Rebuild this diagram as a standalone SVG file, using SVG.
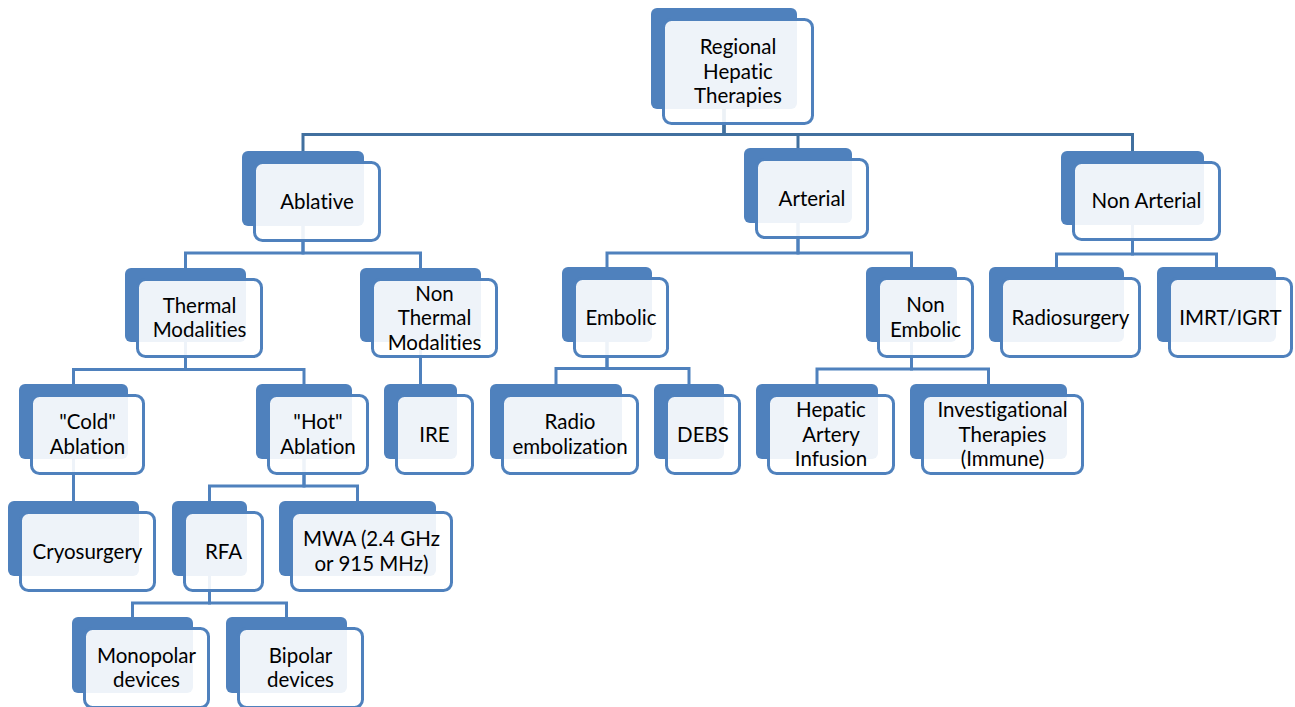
<svg xmlns="http://www.w3.org/2000/svg" width="1295" height="707" viewBox="0 0 1295 707">
<style>
.back{fill:#4F81BD;}
.front{fill:#FFFFFF;fill-opacity:0.9;stroke:#4F81BD;stroke-width:3;}
.txt{font-family:Lato,"Liberation Sans",sans-serif;font-size:20.5px;fill:#000000;text-anchor:middle;font-variant-ligatures:none;}
.conn{fill:none;stroke:#4F81BD;stroke-width:3;}
.conn-top{fill:none;stroke:#41709F;stroke-width:3;}
</style>
<rect x="0" y="0" width="1295" height="707" fill="#FFFFFF"/>
<g id="connectors">
<path class="conn-top" d="M724,109 V134.5 H303 V151"/>
<path class="conn-top" d="M724,109 V134.5 H798 V148"/>
<path class="conn-top" d="M724,109 V134.5 H1132.5 V151"/>
<path class="conn" d="M303,226 V253 H185.5 V268"/>
<path class="conn" d="M303,226 V253 H420.5 V268"/>
<path class="conn" d="M185.5,342 V369.5 H73.5 V384"/>
<path class="conn" d="M185.5,342 V369.5 H304 V384"/>
<path class="conn" d="M420.5,342 V384"/>
<path class="conn" d="M73.5,459 V501"/>
<path class="conn" d="M304,459 V486 H209.5 V501"/>
<path class="conn" d="M304,459 V486 H357.5 V501"/>
<path class="conn" d="M209.5,576 V603 H132.5 V617"/>
<path class="conn" d="M209.5,576 V603 H286.5 V617"/>
<path class="conn" d="M798,223 V253 H607 V267"/>
<path class="conn" d="M798,223 V253 H911.5 V267"/>
<path class="conn" d="M607,342 V368.5 H556 V384"/>
<path class="conn" d="M607,342 V368.5 H689 V384"/>
<path class="conn" d="M911.5,342 V369 H817 V384"/>
<path class="conn" d="M911.5,342 V369 H988.5 V384"/>
<path class="conn" d="M1132.5,225 V254 H1056.5 V267"/>
<path class="conn" d="M1132.5,225 V254 H1216.5 V267"/>
</g>
<g id="n-regional">
<rect class="back" x="651" y="8" width="146" height="101" rx="6"/>
<rect class="front" x="663.5" y="19.5" width="149" height="104" rx="8"/>
<text class="txt" x="738"><tspan x="738" y="54">Regional</tspan><tspan x="738" y="78.5">Hepatic</tspan><tspan x="738" y="103">Therapies</tspan></text>
</g>
<g id="n-ablative">
<rect class="back" x="242" y="151" width="122" height="75" rx="6"/>
<rect class="front" x="254.5" y="162.5" width="125" height="78" rx="8"/>
<text class="txt" x="317" y="208.5">Ablative</text>
</g>
<g id="n-arterial">
<rect class="back" x="744" y="148" width="108" height="75" rx="6"/>
<rect class="front" x="756.5" y="159.5" width="111" height="78" rx="8"/>
<text class="txt" x="812" y="205.5">Arterial</text>
</g>
<g id="n-nonarterial">
<rect class="back" x="1061" y="151" width="143" height="74" rx="6"/>
<rect class="front" x="1073.5" y="162.5" width="146" height="77" rx="8"/>
<text class="txt" x="1146.5" y="208">Non Arterial</text>
</g>
<g id="n-thermal">
<rect class="back" x="125" y="268" width="121" height="74" rx="6"/>
<rect class="front" x="137.5" y="279.5" width="124" height="77" rx="8"/>
<text class="txt"><tspan x="199.5" y="312.75">Thermal</tspan><tspan x="199.5" y="337.25">Modalities</tspan></text>
</g>
<g id="n-nonthermal">
<rect class="back" x="360" y="268" width="121" height="74" rx="6"/>
<rect class="front" x="372.5" y="279.5" width="124" height="77" rx="8"/>
<text class="txt"><tspan x="434.5" y="300.5">Non</tspan><tspan x="434.5" y="325">Thermal</tspan><tspan x="434.5" y="349.5">Modalities</tspan></text>
</g>
<g id="n-embolic">
<rect class="back" x="562" y="267" width="90" height="75" rx="6"/>
<rect class="front" x="574.5" y="278.5" width="93" height="78" rx="8"/>
<text class="txt" x="621" y="324.5">Embolic</text>
</g>
<g id="n-nonembolic">
<rect class="back" x="866" y="267" width="91" height="75" rx="6"/>
<rect class="front" x="878.5" y="278.5" width="94" height="78" rx="8"/>
<text class="txt"><tspan x="925.5" y="312.25">Non</tspan><tspan x="925.5" y="336.75">Embolic</tspan></text>
</g>
<g id="n-radiosurgery">
<rect class="back" x="989" y="267" width="135" height="75" rx="6"/>
<rect class="front" x="1001.5" y="278.5" width="138" height="78" rx="8"/>
<text class="txt" x="1070.5" y="324.5">Radiosurgery</text>
</g>
<g id="n-imrt">
<rect class="back" x="1157" y="267" width="119" height="75" rx="6"/>
<rect class="front" x="1169.5" y="278.5" width="122" height="78" rx="8"/>
<text class="txt" x="1230.5" y="324.5">IMRT/IGRT</text>
</g>
<g id="n-cold">
<rect class="back" x="19" y="384" width="109" height="75" rx="6"/>
<rect class="front" x="31.5" y="395.5" width="112" height="78" rx="8"/>
<text class="txt"><tspan x="87.5" y="429.25">"Cold"</tspan><tspan x="87.5" y="453.75">Ablation</tspan></text>
</g>
<g id="n-hot">
<rect class="back" x="256" y="384" width="96" height="75" rx="6"/>
<rect class="front" x="268.5" y="395.5" width="99" height="78" rx="8"/>
<text class="txt"><tspan x="318" y="429.25">"Hot"</tspan><tspan x="318" y="453.75">Ablation</tspan></text>
</g>
<g id="n-ire">
<rect class="back" x="384" y="384" width="73" height="75" rx="6"/>
<rect class="front" x="396.5" y="395.5" width="76" height="78" rx="8"/>
<text class="txt" x="434.5" y="441.5">IRE</text>
</g>
<g id="n-radioembolization">
<rect class="back" x="490" y="384" width="132" height="75" rx="6"/>
<rect class="front" x="502.5" y="395.5" width="135" height="78" rx="8"/>
<text class="txt"><tspan x="570" y="429.25">Radio</tspan><tspan x="570" y="453.75">embolization</tspan></text>
</g>
<g id="n-debs">
<rect class="back" x="654" y="384" width="70" height="75" rx="6"/>
<rect class="front" x="666.5" y="395.5" width="73" height="78" rx="8"/>
<text class="txt" x="703" y="441.5">DEBS</text>
</g>
<g id="n-hai">
<rect class="back" x="756" y="384" width="122" height="75" rx="6"/>
<rect class="front" x="768.5" y="395.5" width="125" height="78" rx="8"/>
<text class="txt"><tspan x="831" y="417">Hepatic</tspan><tspan x="831" y="441.5">Artery</tspan><tspan x="831" y="466">Infusion</tspan></text>
</g>
<g id="n-investigational">
<rect class="back" x="910" y="384" width="157" height="75" rx="6"/>
<rect class="front" x="922.5" y="395.5" width="160" height="78" rx="8"/>
<text class="txt"><tspan x="1002.5" y="417">Investigational</tspan><tspan x="1002.5" y="441.5">Therapies</tspan><tspan x="1002.5" y="466">(Immune)</tspan></text>
</g>
<g id="n-cryosurgery">
<rect class="back" x="8" y="501" width="131" height="75" rx="6"/>
<rect class="front" x="20.5" y="512.5" width="134" height="78" rx="8"/>
<text class="txt" x="87.5" y="558.5">Cryosurgery</text>
</g>
<g id="n-rfa">
<rect class="back" x="172" y="501" width="75" height="75" rx="6"/>
<rect class="front" x="184.5" y="512.5" width="78" height="78" rx="8"/>
<text class="txt" x="223.5" y="558.5">RFA</text>
</g>
<g id="n-mwa">
<rect class="back" x="279" y="501" width="157" height="75" rx="6"/>
<rect class="front" x="291.5" y="512.5" width="160" height="78" rx="8"/>
<text class="txt"><tspan x="371.5" y="546.25">MWA (2.4 GHz</tspan><tspan x="371.5" y="570.75">or 915 MHz)</tspan></text>
</g>
<g id="n-monopolar">
<rect class="back" x="72" y="617" width="121" height="76" rx="6"/>
<rect class="front" x="84.5" y="628.5" width="124" height="79" rx="8"/>
<text class="txt"><tspan x="146.5" y="662.75">Monopolar</tspan><tspan x="146.5" y="687.25">devices</tspan></text>
</g>
<g id="n-bipolar">
<rect class="back" x="226" y="617" width="121" height="76" rx="6"/>
<rect class="front" x="238.5" y="628.5" width="124" height="79" rx="8"/>
<text class="txt"><tspan x="300.5" y="662.75">Bipolar</tspan><tspan x="300.5" y="687.25">devices</tspan></text>
</g>
</svg>
